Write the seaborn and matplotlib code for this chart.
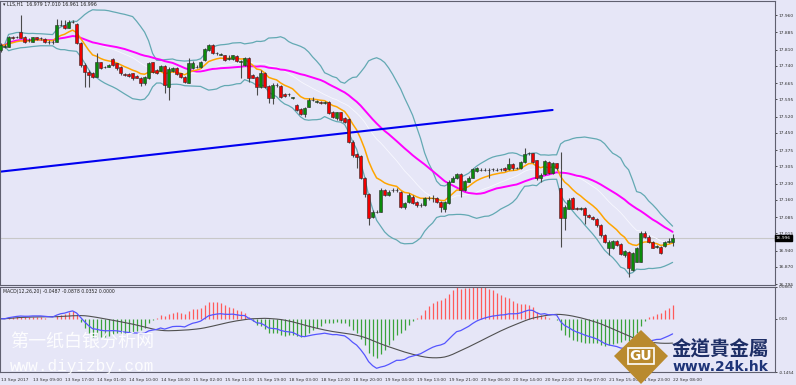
import numpy as np
import pandas as pd
import matplotlib
matplotlib.use("Agg")
import matplotlib.pyplot as plt
import matplotlib.transforms as mtrans
from matplotlib.patches import Polygon
import seaborn as sns

# ----------------------------
# Data: hourly candles, 13 Sep 2017 00:00 -> 22 Sep 08:00
# ----------------------------

opens = [
    17.809, 17.823, 17.823, 17.866, 17.863, 17.888, 17.866, 17.852, 17.845, 17.863,
    17.859, 17.855, 17.842, 17.845, 17.845, 17.917, 17.917, 17.905, 17.931, 17.920,
    17.837, 17.744, 17.715, 17.708, 17.693, 17.755, 17.736, 17.736, 17.768, 17.751,
    17.736, 17.705, 17.705, 17.708, 17.696, 17.689, 17.664, 17.686, 17.755, 17.722,
    17.719, 17.739, 17.650, 17.719, 17.732, 17.708, 17.693, 17.668, 17.729, 17.736,
    17.733, 17.764, 17.809, 17.830, 17.794, 17.789, 17.787, 17.768, 17.768, 17.784,
    17.758, 17.744, 17.772, 17.700, 17.693, 17.650, 17.708, 17.654, 17.603, 17.657,
    17.653, 17.617, 17.617, 17.603, 17.570, 17.552, 17.530, 17.563, 17.592, 17.585,
    17.585, 17.581, 17.585, 17.541, 17.513, 17.539, 17.513, 17.508, 17.412, 17.357,
    17.351, 17.256, 17.184, 17.087, 17.108, 17.108, 17.202, 17.180, 17.202, 17.202,
    17.195, 17.130, 17.151, 17.173, 17.151, 17.137, 17.137, 17.166, 17.166, 17.166,
    17.151, 17.122, 17.144, 17.238, 17.253, 17.271, 17.202, 17.238, 17.256, 17.286,
    17.289, 17.289, 17.289, 17.292, 17.289, 17.292, 17.296, 17.292, 17.314, 17.296,
    17.296, 17.324, 17.361, 17.361, 17.331, 17.253, 17.271, 17.324, 17.275, 17.318,
    17.211, 17.080, 17.122, 17.169, 17.126, 17.122, 17.126, 17.094, 17.087, 17.077,
    17.051, 17.008, 16.950, 16.950, 16.982, 16.967, 16.921, 16.936, 16.856, 16.892,
    16.892, 17.018, 17.001, 16.979, 16.957, 16.957, 16.960, 16.979, 16.979,
]

closes = [
    17.830, 17.827, 17.866, 17.859, 17.866, 17.862, 17.845, 17.853, 17.863, 17.855,
    17.859, 17.845, 17.845, 17.842, 17.917, 17.917, 17.902, 17.931, 17.931, 17.837,
    17.744, 17.715, 17.700, 17.693, 17.755, 17.729, 17.736, 17.744, 17.744, 17.729,
    17.708, 17.700, 17.697, 17.686, 17.689, 17.664, 17.693, 17.751, 17.715, 17.708,
    17.739, 17.657, 17.726, 17.732, 17.703, 17.693, 17.671, 17.751, 17.754, 17.736,
    17.755, 17.811, 17.830, 17.794, 17.794, 17.789, 17.764, 17.775, 17.787, 17.761,
    17.758, 17.772, 17.689, 17.689, 17.650, 17.708, 17.650, 17.603, 17.657, 17.657,
    17.607, 17.611, 17.617, 17.603, 17.549, 17.530, 17.559, 17.592, 17.592, 17.585,
    17.578, 17.581, 17.534, 17.520, 17.539, 17.505, 17.498, 17.412, 17.354, 17.347,
    17.256, 17.184, 17.083, 17.108, 17.108, 17.202, 17.180, 17.195, 17.202, 17.202,
    17.130, 17.144, 17.180, 17.144, 17.137, 17.137, 17.166, 17.166, 17.166, 17.151,
    17.130, 17.151, 17.238, 17.256, 17.271, 17.202, 17.241, 17.256, 17.292, 17.296,
    17.289, 17.289, 17.289, 17.292, 17.289, 17.292, 17.289, 17.314, 17.296, 17.296,
    17.324, 17.357, 17.361, 17.324, 17.253, 17.267, 17.327, 17.275, 17.318, 17.296,
    17.080, 17.130, 17.159, 17.122, 17.120, 17.122, 17.094, 17.087, 17.077, 17.051,
    17.008, 16.976, 16.979, 16.982, 16.964, 16.924, 16.938, 16.864, 16.928, 16.950,
    17.015, 17.001, 16.979, 16.953, 16.957, 16.928, 16.976, 16.979, 16.996,
]

highs = [
    17.837, 17.833, 17.870, 17.869, 17.870, 17.960, 17.869, 17.859, 17.866, 17.866,
    17.863, 17.859, 17.852, 17.852, 17.943, 17.938, 17.938, 17.938, 17.938, 17.924,
    17.842, 17.751, 17.722, 17.715, 17.794, 17.758, 17.741, 17.746, 17.772, 17.754,
    17.739, 17.708, 17.708, 17.710, 17.700, 17.693, 17.697, 17.758, 17.758, 17.725,
    17.744, 17.744, 17.736, 17.736, 17.736, 17.710, 17.696, 17.772, 17.761, 17.744,
    17.761, 17.818, 17.834, 17.833, 17.798, 17.794, 17.789, 17.787, 17.789, 17.787,
    17.764, 17.779, 17.779, 17.703, 17.696, 17.722, 17.715, 17.657, 17.664, 17.664,
    17.657, 17.621, 17.621, 17.607, 17.573, 17.556, 17.563, 17.600, 17.607, 17.592,
    17.588, 17.588, 17.588, 17.545, 17.541, 17.541, 17.520, 17.513, 17.419, 17.361,
    17.354, 17.260, 17.188, 17.116, 17.116, 17.209, 17.206, 17.202, 17.209, 17.209,
    17.198, 17.151, 17.188, 17.180, 17.154, 17.144, 17.173, 17.177, 17.180, 17.173,
    17.154, 17.154, 17.245, 17.264, 17.275, 17.275, 17.245, 17.264, 17.299, 17.303,
    17.296, 17.296, 17.296, 17.299, 17.296, 17.299, 17.301, 17.340, 17.318, 17.303,
    17.327, 17.383, 17.368, 17.364, 17.334, 17.275, 17.331, 17.327, 17.324, 17.321,
    17.368, 17.137, 17.166, 17.173, 17.130, 17.130, 17.130, 17.098, 17.091, 17.080,
    17.054, 17.011, 16.986, 16.986, 16.986, 16.972, 16.943, 16.938, 16.936, 16.957,
    17.025, 17.025, 17.008, 16.983, 16.964, 16.960, 16.982, 16.993, 17.010,
]

lows = [
    17.801, 17.816, 17.820, 17.855, 17.859, 17.859, 17.837, 17.845, 17.842, 17.850,
    17.853, 17.840, 17.834, 17.834, 17.842, 17.914, 17.899, 17.902, 17.924, 17.833,
    17.736, 17.650, 17.650, 17.686, 17.690, 17.726, 17.729, 17.733, 17.741, 17.722,
    17.700, 17.696, 17.693, 17.681, 17.686, 17.653, 17.657, 17.683, 17.710, 17.703,
    17.716, 17.621, 17.592, 17.715, 17.700, 17.689, 17.668, 17.665, 17.726, 17.729,
    17.730, 17.762, 17.805, 17.791, 17.789, 17.787, 17.762, 17.764, 17.764, 17.758,
    17.686, 17.741, 17.671, 17.686, 17.614, 17.646, 17.646, 17.578, 17.574, 17.650,
    17.603, 17.607, 17.611, 17.597, 17.545, 17.527, 17.520, 17.560, 17.588, 17.581,
    17.574, 17.575, 17.530, 17.513, 17.505, 17.501, 17.491, 17.407, 17.347, 17.296,
    17.250, 17.174, 17.051, 17.080, 17.101, 17.106, 17.177, 17.177, 17.195, 17.195,
    17.126, 17.120, 17.148, 17.140, 17.130, 17.130, 17.134, 17.159, 17.151, 17.147,
    17.108, 17.106, 17.140, 17.235, 17.250, 17.174, 17.198, 17.235, 17.253, 17.282,
    17.285, 17.285, 17.253, 17.286, 17.285, 17.286, 17.285, 17.289, 17.289, 17.292,
    17.292, 17.321, 17.354, 17.321, 17.245, 17.238, 17.267, 17.271, 17.271, 17.289,
    16.957, 17.030, 17.120, 17.120, 17.116, 17.116, 17.054, 17.083, 17.072, 17.044,
    17.001, 16.972, 16.921, 16.946, 16.960, 16.921, 16.914, 16.827, 16.852, 16.889,
    16.889, 16.996, 16.974, 16.950, 16.953, 16.924, 16.957, 16.972, 16.961,
]

# x-axis labels, one every 8 bars
time_labels = [
    "13 Sep 2017", "13 Sep 09:00", "13 Sep 17:00", "14 Sep 01:00", "14 Sep 10:00",
    "14 Sep 18:00", "15 Sep 02:00", "15 Sep 11:00", "15 Sep 19:00", "18 Sep 03:00",
    "18 Sep 12:00", "18 Sep 20:00", "19 Sep 04:00", "19 Sep 13:00", "19 Sep 21:00",
    "20 Sep 06:00", "20 Sep 14:00", "20 Sep 22:00", "21 Sep 07:00", "21 Sep 15:00",
    "21 Sep 23:00", "22 Sep 08:00",
]

price_ticks = [17.960, 17.885, 17.810, 17.740, 17.665, 17.595, 17.520, 17.450, 17.375,
               17.305, 17.230, 17.160, 17.085, 17.015, 16.940, 16.870, 16.795]
macd_ticks = [0.0865, 0.0, -0.1454]
macd_tick_labels = ["0.0865", "0.00", "-0.1454"]

# hand drawn trend line (bar index, price)
trend_bars = [0, 138]
trend_prices = [17.282, 17.549]

last_price = 16.996

# ----------------------------
# Indicators
# ----------------------------

df = pd.DataFrame({"open": opens, "high": highs, "low": lows, "close": closes})
df["bar"] = np.arange(len(df))

df["ma_fast"] = df["close"].ewm(span=10, adjust=False).mean()
df["ma_slow"] = df["close"].rolling(30, min_periods=1).mean()
df["bb_mid"] = df["close"].rolling(20, min_periods=1).mean()
bb_std = df["close"].rolling(20, min_periods=1).std(ddof=0)
df["bb_up"] = df["bb_mid"] + 2 * bb_std
df["bb_dn"] = df["bb_mid"] - 2 * bb_std

ema12 = df["close"].ewm(span=12, adjust=False).mean()
ema26 = df["close"].ewm(span=26, adjust=False).mean()
df["macd"] = ema12 - ema26
df["signal"] = df["macd"].rolling(20, min_periods=1).mean()
# the terminal draws the histogram on a larger scale than the two lines
HIST_SCALE = 1.5
df["hist"] = (df["macd"] - df["signal"]) * HIST_SCALE

# ----------------------------
# Figure
# ----------------------------

BG = "#E6E6F7"
sns.set_style("white", {"axes.facecolor": BG, "figure.facecolor": BG})
plt.rcParams["font.family"] = ["DejaVu Sans"]

W, H = 796, 385
fig = plt.figure(figsize=(W / 100, H / 100), dpi=100)
fig.patch.set_facecolor(BG)


def box(x0, y0, x1, y1):
    return [x0 / W, 1 - y1 / H, (x1 - x0) / W, (y1 - y0) / H]


ax = fig.add_axes(box(0, 1, 775, 285))
axm = fig.add_axes(box(0, 287, 775, 372), sharex=ax)

# Bollinger bands + moving averages
sns.lineplot(data=df, x="bar", y="bb_up", ax=ax, color="#63A9B3", lw=0.9)
sns.lineplot(data=df, x="bar", y="bb_dn", ax=ax, color="#63A9B3", lw=0.9)
sns.lineplot(data=df, x="bar", y="bb_mid", ax=ax, color="#F8F8FF", lw=0.6)
sns.lineplot(data=df, x="bar", y="ma_slow", ax=ax, color="#FF00FF", lw=1.4)
sns.lineplot(data=df, x="bar", y="ma_fast", ax=ax, color="#FFA500", lw=1.1)

# trend line
sns.lineplot(x=trend_bars, y=trend_prices, ax=ax, color="#0000F0", lw=1.5)

# current price line
ax.axhline(last_price, color="#C8C8C8", lw=0.8, zorder=1)

# candles
up = df["close"] >= df["open"]
ax.vlines(df["bar"], df["low"], df["high"], color="#4A4A4A", lw=0.8, zorder=3)
body_lo = np.minimum(df["open"], df["close"])
body_h = np.maximum((df["close"] - df["open"]).abs(), 0.0012)
ax.bar(df["bar"], body_h, bottom=body_lo, width=0.72,
       color=np.where(up, "#0A8A0A", "#F00000"),
       edgecolor="#2A2A2A", linewidth=0.4, zorder=4)

ax.set_xlim(-0.15, 193.6)
ax.set_ylim(16.791, 18.021)
ax.set_xlabel("")
ax.set_ylabel("")
ax.yaxis.tick_right()
ax.set_yticks(price_ticks)
ax.set_yticklabels([f"{v:.3f}" for v in price_ticks])
ax.tick_params(axis="y", labelsize=3.2, length=1.5, pad=1, colors="#303030", width=0.6)
ax.tick_params(axis="x", bottom=False, labelbottom=False)

trans = mtrans.blended_transform_factory(ax.transAxes, ax.transData)
ax.text(1.001, last_price, f"{last_price:.3f}", transform=trans, fontsize=3.2,
        color="white", va="center", ha="left",
        bbox=dict(boxstyle="square,pad=0.2", fc="black", ec="black"))

# MACD panel
hist_colors = np.where(df["hist"] >= 0, "#FF5A5A", "#3AA33A")
axm.vlines(df["bar"], 0, df["hist"], colors=hist_colors, lw=0.9)
sns.lineplot(data=df, x="bar", y="signal", ax=axm, color="#505050", lw=0.8)
sns.lineplot(data=df, x="bar", y="macd", ax=axm, color="#5555FF", lw=0.9)

axm.set_ylim(-0.1454, 0.0865)
axm.set_xlabel("")
axm.set_ylabel("")
axm.yaxis.tick_right()
axm.set_yticks(macd_ticks)
axm.set_yticklabels(macd_tick_labels)
axm.tick_params(axis="y", labelsize=3.0, length=1.5, pad=1, colors="#303030", width=0.6)
axm.set_xticks(np.arange(0, 8 * len(time_labels), 8))
axm.set_xticklabels(time_labels, ha="left")
axm.tick_params(axis="x", labelsize=3.2, length=2.5, pad=1.5, colors="#303030",
                direction="out", width=0.6)

for a in (ax, axm):
    for s in a.spines.values():
        s.set_color("#606070")
        s.set_linewidth(0.8)

# header texts
fig.text(3 / W, 1 - 4 / H, "\u25be LLS,H1  16.979 17.010 16.961 16.996",
         fontsize=3.4, color="#202020", va="center")
fig.text(3 / W, 1 - 292 / H, "MACD(12,26,20) -0.0487 -0.0878 0.0352 0.0000",
         fontsize=3.3, color="#202020", va="center")

# watermarks
fig.text(10 / W, 1 - 343 / H, "第一纸白银分析网", fontsize=13, color="white",
         family=["Noto Sans CJK SC", "DejaVu Sans"], va="center", alpha=0.9)
fig.text(10 / W, 1 - 366 / H, "www.diyizby.com", fontsize=11.5, color="white",
         family="Liberation Mono", va="center", alpha=0.9)

# logo
diamond = Polygon([[614 / W, 1 - 356 / H], [641 / W, 1 - 330 / H],
                   [668 / W, 1 - 356 / H], [641 / W, 1 - 384 / H]],
                  closed=True, transform=fig.transFigure, fc="#B98A2E", ec="none")
fig.patches.append(diamond)
fig.text(641 / W, 1 - 356 / H, "GU", fontsize=10, color="white", weight="bold",
         ha="center", va="center",
         bbox=dict(boxstyle="square,pad=0.1", fc="none", ec="white", lw=1.2))
fig.text(720 / W, 1 - 350 / H, "金道貴金屬", fontsize=14, color="#1E2E66", weight="bold",
         family=["Noto Sans CJK TC", "DejaVu Sans"], ha="center", va="center")
fig.text(720 / W, 1 - 367 / H, "www.24k.hk", fontsize=10, color="#1E3478", weight="bold",
         ha="center", va="center")

fig.savefig("out.png", dpi=100, facecolor=BG)
